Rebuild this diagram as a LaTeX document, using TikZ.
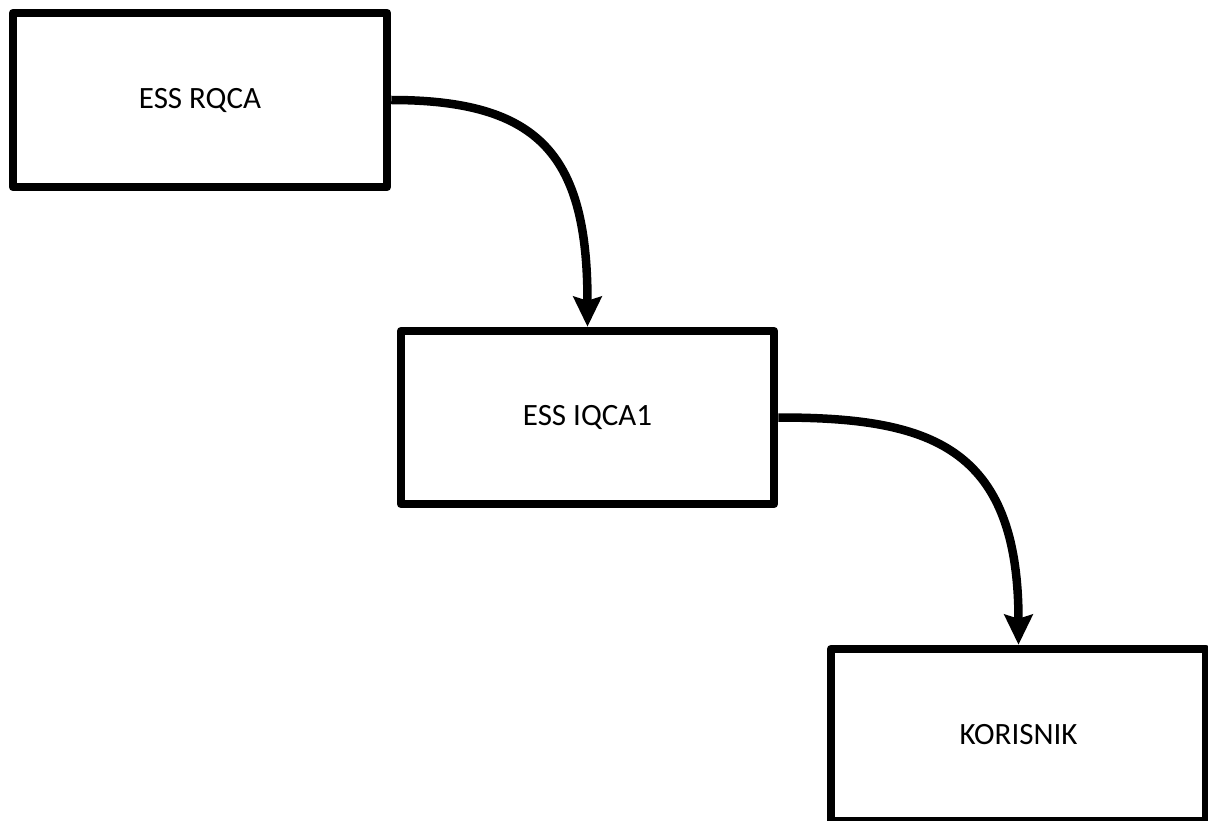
\documentclass[tikz,border=0pt]{standalone}
\usepackage{fontspec}
\setmainfont{Carlito}
\usetikzlibrary{arrows.meta}
\begin{document}
\begin{tikzpicture}[x=1pt,y=-1pt,
  box/.style={draw=black, line width=8.5pt, line join=round, fill=white,
    inner sep=0pt, font=\fontsize{31}{37}\selectfont},
  flow/.style={line width=8.5pt, -{Stealth[length=30pt,width=28pt,inset=4pt]}}]
\useasboundingbox (0,0) rectangle (1208,821);
\clip (0,0) rectangle (1208,821);
\node[box, minimum width=374pt, minimum height=174pt] (a) at (200,100) {ESS RQCA};
\node[box, minimum width=373pt, minimum height=173pt] (b) at (587.5,417.5) {ESS IQCA1};
\node[box, minimum width=375pt, minimum height=172pt] (c) at (1018.5,735) {KORISNIK};
\draw[flow] (a.east) .. controls +(150,0) and +(0,-170) .. (b.north);
\draw[flow] (b.east) .. controls +(150,0) and +(0,-200) .. (c.north);
\end{tikzpicture}
\end{document}
